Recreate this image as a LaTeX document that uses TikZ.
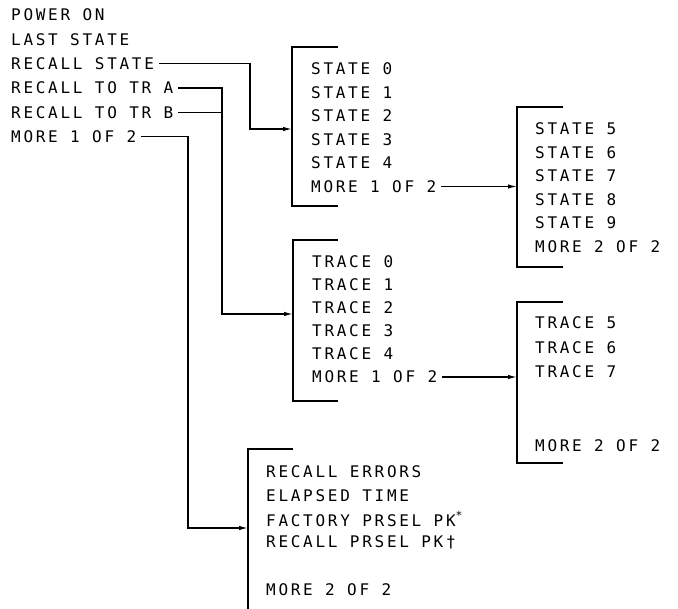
\documentclass[tikz,border=0pt]{standalone}
\usepackage{fontspec}
\newfontfamily\menufont[LetterSpace=17]{DejaVu Sans Mono}
\usetikzlibrary{arrows.meta}
\tikzset{
	key/.style={anchor=west, inner xsep=5pt, inner ysep=0pt, font={\fontsize{16}{19}\selectfont\menufont}},
	wire/.style={line width=1.3pt},
	feed/.style={wire, -{Latex[length=9pt, width=4.5pt]}},
	bracket/.style={line width=1.3pt}
}
\begin{document}
\begin{tikzpicture}[x=1pt, y=-1pt]
	\useasboundingbox (0,0) rectangle (678,609);
	% Recall menu
	\node[key] (poweron) at (6, 15) {POWER ON};
	\node[key] (laststate) at (6, 39.3) {LAST STATE};
	\node[key] (recst) at (6, 63.6) {RECALL STATE};
	\node[key] (tra) at (6, 87.9) {RECALL TO TR A};
	\node[key] (trb) at (6, 112.2) {RECALL TO TR B};
	\node[key] (more) at (6, 136.5) {MORE 1 OF 2};
	% State menu, page 1
	\draw[bracket] (338, 47) -- (292, 47) -- (292, 206) -- (338, 206);
	\coordinate (st0in) at (292, 129);
	\node[key] (st0) at (306, 69) {STATE 0};
	\node[key] (st1) at (306, 92.5) {STATE 1};
	\node[key] (st2) at (306, 116) {STATE 2};
	\node[key] (st3) at (306, 139.5) {STATE 3};
	\node[key] (st4) at (306, 163) {STATE 4};
	\node[key] (stmore) at (306, 186.5) {MORE 1 OF 2};
	% State menu, page 2
	\draw[bracket] (563, 107) -- (517, 107) -- (517, 267) -- (563, 267);
	\coordinate (st5in) at (517, 188);
	\node[key] (st5) at (530, 129) {STATE 5};
	\node[key] (st6) at (530, 152.5) {STATE 6};
	\node[key] (st7) at (530, 176) {STATE 7};
	\node[key] (st8) at (530, 199.5) {STATE 8};
	\node[key] (st9) at (530, 223) {STATE 9};
	\node[key] (stback) at (530, 246.5) {MORE 2 OF 2};
	% Trace menu, page 1
	\draw[bracket] (338, 240) -- (293, 240) -- (293, 401) -- (338, 401);
	\coordinate (tr0in) at (293, 314);
	\node[key] (tr0) at (307, 262) {TRACE 0};
	\node[key] (tr1) at (307, 285) {TRACE 1};
	\node[key] (tr2) at (307, 308) {TRACE 2};
	\node[key] (tr3) at (307, 331) {TRACE 3};
	\node[key] (tr4) at (307, 354) {TRACE 4};
	\node[key] (trmore) at (307, 377) {MORE 1 OF 2};
	% Trace menu, page 2
	\draw[bracket] (563, 302) -- (517, 302) -- (517, 463) -- (563, 463);
	\coordinate (tr5in) at (517, 379);
	\node[key] (tr5) at (530, 323) {TRACE 5};
	\node[key] (tr6) at (530, 347.5) {TRACE 6};
	\node[key] (tr7) at (530, 372) {TRACE 7};
	\node[key] (trback) at (530, 445.5) {MORE 2 OF 2};
	% Recall menu, page 2
	\draw[bracket] (293, 449) -- (248, 449) -- (248, 609);
	\coordinate (miscin) at (248, 528);
	\node[key] (errors) at (261, 472) {RECALL ERRORS};
	\node[key] (elapsed) at (261, 495.5) {ELAPSED TIME};
	\node[key] (factory) at (261, 519) {FACTORY PRSEL PK\textsuperscript{*}};
	\node[key] (prsel) at (261, 542.5) {RECALL PRSEL PK†};
	\node[key] (miscback) at (261, 589.5) {MORE 2 OF 2};
	% Connections
	\coordinate (stbus) at (250, 129);
	\coordinate (trbus) at (222, 314);
	\coordinate (morebus) at (188, 528);
	\draw[feed] (recst.east) -| (stbus) -- (st0in);
	\draw[feed] (tra.east) -| (trbus) -- (tr0in);
	\draw[wire] (trb.east) -- (trb.east -| trbus);
	\draw[feed] (more.east) -| (morebus) -- (miscin);
	\draw[feed] (stmore.east) -- (stmore.east -| st5in);
	\draw[feed] (trmore.east) -- (trmore.east -| tr5in);
\end{tikzpicture}
\end{document}
